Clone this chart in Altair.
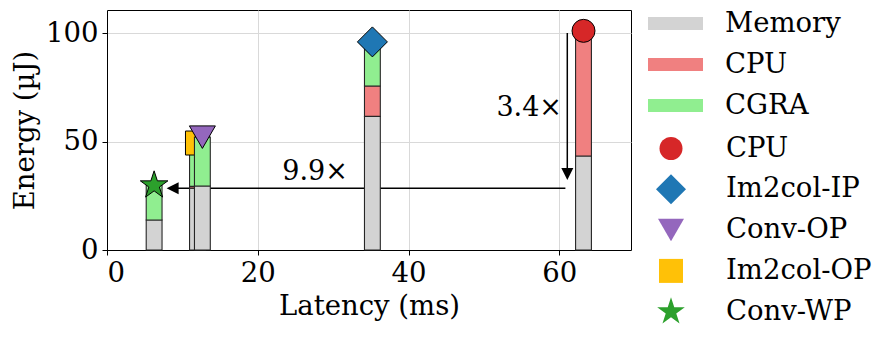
import altair as alt
import pandas as pd

# ---- data ----
configs = ["CPU", "Im2col-IP", "Conv-OP", "Im2col-OP", "Conv-WP"]
latency_ms = [63.2, 35.2, 12.65, 12.0, 6.25]
memory_uj = [43.3, 61.6, 29.5, 28.5, 13.8]
cpu_uj = [57.7, 14.0, 0.0, 0.8, 0.0]
cgra_uj = [0.0, 20.3, 22.5, 20.0, 16.0]

components = ["Memory", "CPU", "CGRA"]
component_colors = ["#d3d3d3", "#f08080", "#90ee90"]

STAR = ("M0,-1L0.2245,-0.309L0.9511,-0.309L0.3633,0.118L0.5878,0.809L0,0.382"
        "L-0.5878,0.809L-0.3633,0.118L-0.9511,-0.309L-0.2245,-0.309Z")
DIAMOND = "M0,-1L1,0L0,1L-1,0Z"
marker_colors = ["#d62728", "#1f77b4", "#9467bd", "#ffc107", "#2ca02c"]
marker_shapes = ["circle", DIAMOND, "triangle-down", "square", STAR]
marker_sizes = [529, 900, 676, 576, 840]

x_ticks = [0, 20, 40, 60]
y_ticks = [0, 50, 100]

# annotation arrows (data coordinates)
arrow_x_start = [60.8, 61.05]
arrow_x_end = [8.7, 61.05]
arrow_y_start = [28.4, 100.0]
arrow_y_end = [28.4, 35.0]
head_x = [8.7, 61.05]
head_y = [28.4, 35.0]
note_text = ["9.9×", "3.4×"]
note_x = [27.6, 56.0]
note_y = [32.3, 61.9]

FONT = "DejaVu Serif"
FS = 27.5

rows = []
for i, c in enumerate(configs):
    for j, vals in enumerate([memory_uj, cpu_uj, cgra_uj]):
        rows.append({"config": c, "latency": latency_ms[i],
                     "component": components[j], "order": j, "energy": vals[i]})
df = pd.DataFrame(rows)

arrows_df = pd.DataFrame({"x": arrow_x_start, "x2": arrow_x_end,
                          "y": arrow_y_start, "y2": arrow_y_end})
heads_left = pd.DataFrame({"x": head_x[:1], "y": head_y[:1]})
heads_down = pd.DataFrame({"x": head_x[1:], "y": head_y[1:]})
notes_df = pd.DataFrame({"t": note_text, "x": note_x, "y": note_y})

xs = alt.Scale(domain=[0, 69.5], nice=False, zero=False)
ys = alt.Scale(domain=[0, 110.6], nice=False, zero=False)
xaxis = alt.Axis(title="Latency (ms)", values=x_ticks, grid=True, orient="bottom",
                 titlePadding=6)
yaxis = alt.Axis(title="Energy (µJ)", values=y_ticks, grid=True, orient="left",
                 titlePadding=6)

bar_legend = alt.Legend(
    title=None, orient="none", legendX=541, legendY=-3.5, padding=0,
    symbolType="M-1,-0.24H1V0.24H-1Z", symbolSize=3025, symbolStrokeWidth=0,
    clipHeight=34, labelOffset=22, rowPadding=7, labelFont=FONT, labelFontSize=FS,
    labelColor="black")
pt_legend = alt.Legend(
    title=None, orient="none", legendX=549, legendY=121.5, padding=0,
    symbolSize=400, symbolStrokeWidth=0, clipHeight=34, labelOffset=40, rowPadding=6.8,
    labelFont=FONT, labelFontSize=FS, labelColor="black")

fill_enc = alt.Fill("component:N", scale=alt.Scale(domain=components, range=component_colors),
                    legend=bar_legend)
color_enc = alt.Color("config:N", scale=alt.Scale(domain=configs, range=marker_colors),
                      legend=pt_legend)
shape_enc = alt.Shape("config:N", scale=alt.Scale(domain=configs, range=marker_shapes),
                      legend=pt_legend)
size_enc = alt.Size("config:N",
                    scale=alt.Scale(type="ordinal", domain=configs, range=marker_sizes),
                    legend=None)


def bars(group):
    return (alt.Chart(df)
            .transform_filter(alt.FieldOneOfPredicate(field="config", oneOf=group))
            .transform_filter("datum.energy > 0")
            .transform_stack(stack="energy", groupby=["config"], as_=["e0", "e1"],
                             sort=[alt.SortField("order", order="ascending")])
            .transform_calculate(x0="datum.latency - 1.05", x1="datum.latency + 1.05")
            .mark_bar(stroke="#262626", strokeWidth=1.1)
            .encode(x=alt.X("x0:Q", scale=xs, axis=xaxis), x2="x1:Q",
                    y=alt.Y("e0:Q", scale=ys, axis=yaxis), y2="e1:Q",
                    fill=fill_enc))


def markers(group):
    return (alt.Chart(df)
            .transform_filter(alt.FieldOneOfPredicate(field="config", oneOf=group))
            .transform_aggregate(total="sum(energy)", groupby=["config", "latency"])
            .mark_point(filled=True, stroke="black", strokeWidth=1, opacity=1)
            .encode(x=alt.X("latency:Q", scale=xs, axis=xaxis),
                    y=alt.Y("total:Q", scale=ys, axis=yaxis),
                    color=color_enc, shape=shape_enc, size=size_enc))


arrow_lines = alt.Chart(arrows_df).mark_rule(color="black", strokeWidth=1.5).encode(
    x=alt.X("x:Q", scale=xs, axis=xaxis), x2="x2:Q",
    y=alt.Y("y:Q", scale=ys, axis=yaxis), y2="y2:Q")
head_l = alt.Chart(heads_left).mark_point(
    shape="M-1,0L1,-1L1,1Z", filled=True, fill="black", size=144, opacity=1).encode(
    x=alt.X("x:Q", scale=xs, axis=xaxis), y=alt.Y("y:Q", scale=ys, axis=yaxis))
head_d = alt.Chart(heads_down).mark_point(
    shape="M-1,-1L1,-1L0,1Z", filled=True, fill="black", size=144, opacity=1).encode(
    x=alt.X("x:Q", scale=xs, axis=xaxis), y=alt.Y("y:Q", scale=ys, axis=yaxis))
notes = alt.Chart(notes_df).mark_text(
    font=FONT, fontSize=27, baseline="alphabetic", align="center", color="black").encode(
    x=alt.X("x:Q", scale=xs, axis=xaxis), y=alt.Y("y:Q", scale=ys, axis=yaxis), text="t:N")

group_a = ["CPU", "Im2col-IP", "Im2col-OP"]
group_b = ["Conv-OP", "Conv-WP"]

chart = alt.layer(
    arrow_lines, head_l, head_d, notes,
    bars(group_a), markers(group_a), bars(group_b), markers(group_b)
).properties(
    width=524, height=240,
    autosize=alt.AutoSizeParams(type="none"),
    padding={"left": 99, "top": 2, "right": 255, "bottom": 89},
).configure_view(
    stroke="black", strokeWidth=1
).configure_axis(
    labelFont=FONT, labelFontSize=FS, labelColor="black",
    titleFont=FONT, titleFontSize=FS, titleFontWeight="normal", titleColor="black",
    tickColor="black", tickSize=5, domainColor="black",
    gridColor="#d9d9d9", gridWidth=1, labelPadding=4,
)

chart.save("out.html", embed_options={"renderer": "svg", "actions": False})
